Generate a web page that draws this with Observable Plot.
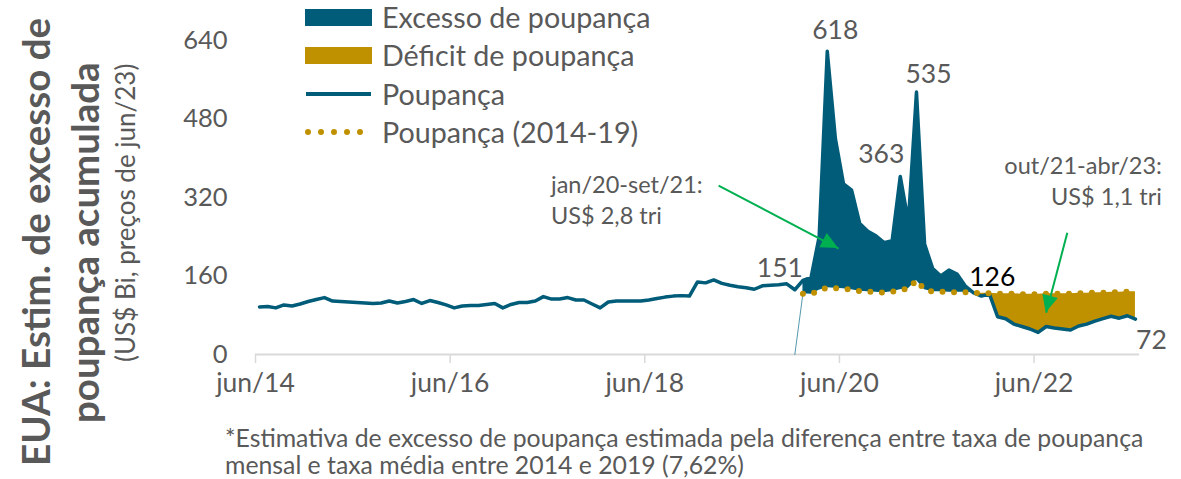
<!DOCTYPE html>
<html><head><meta charset="utf-8">
<script src="https://cdn.jsdelivr.net/npm/d3@7"></script>
<script src="https://cdn.jsdelivr.net/npm/@observablehq/plot@0.6"></script>
<style>
body{margin:0;background:#fff;}
#wrap{position:relative;width:1181px;height:479px;font-family:Lato,sans-serif;color:#595959;overflow:hidden;background:#fff}
#chart svg{position:absolute;left:0;top:0}
.vt{position:absolute;white-space:nowrap;transform-origin:0 0;transform:rotate(-90deg);line-height:1}
.lg{position:absolute;left:305px;display:flex;align-items:center;font-size:28.7px;white-space:nowrap;height:32px}
.sw{width:67px;height:17px;margin-right:10px}
.ann{position:absolute;font-size:23.5px;line-height:31px;white-space:nowrap}
.foot{position:absolute;left:225px;top:424px;font-size:24.8px;line-height:27px;white-space:nowrap}
</style></head>
<body>
<div id="wrap">
  <div id="chart"></div>
  <div class="vt" style="left:16px;top:466px;font-size:38.5px;font-weight:700;">EUA: Estim. de excesso de</div>
  <div class="vt" style="left:65px;top:423px;font-size:38.5px;font-weight:700;">poupança acumulada</div>
  <div class="vt" style="left:112px;top:362px;font-size:26px;">(US$ Bi, preços de jun/23)</div>
  <div class="lg" style="top:1px"><div class="sw" style="background:#005C78"></div>Excesso de poupança</div>
  <div class="lg" style="top:39px"><div class="sw" style="background:#BF9000"></div>Déficit de poupança</div>
  <div class="lg" style="top:78px"><svg width="67" height="10" style="margin-right:10px"><line x1="1" y1="5" x2="66" y2="5" stroke="#005C78" stroke-width="4"/></svg>Poupança</div>
  <div class="lg" style="top:116px"><svg width="67" height="10" style="margin-right:10px"><line x1="3" y1="5" x2="66" y2="5" stroke="#BF9000" stroke-width="6" stroke-linecap="round" stroke-dasharray="0,13"/></svg>Poupança (2014-19)</div>
  <div class="ann" style="left:551px;top:169px">jan/20-set/21:<br>US$ 2,8 tri</div>
  <div class="ann" style="right:19px;top:150px;text-align:right">out/21-abr/23:<br>US$ 1,1 tri</div>
  <div class="foot">*Estimativa de excesso de poupança estimada pela diferença entre taxa de poupança<br>mensal e taxa média entre 2014 e 2019 (7,62%)</div>
</div>
<script>
// Monthly index 0 = jun/14 ... 108 = jun/23
const tickMonths = [0, 24, 48, 72, 96];
const tickLabels = ["jun/14", "jun/16", "jun/18", "jun/20", "jun/22"];
const yTicks = [0, 160, 320, 480, 640];

// Poupança (US$ bi), jun/14 - jun/23
const poupanca = [
  97, 98, 95, 101, 99, 103, 108, 112, 116, 109, 108, 107,      // jun/14 - mai/15
  106, 105, 104, 105, 109, 105, 108, 112, 104, 110, 106, 101,  // jun/15 - mai/16
  95, 99, 100, 100, 102, 104, 95, 102, 106, 106, 109, 118,     // jun/16 - mai/17
  113, 113, 116, 111, 111, 103, 95, 107, 109, 109, 109, 109,   // jun/17 - mai/18
  111, 114, 117, 119, 120, 119, 148, 146, 152, 145, 141, 138,  // jun/18 - mai/19
  136, 133, 140, 141, 142, 144, 132,                           // jun/19 - dez/19
  151, 157, 240, 618, 440, 348, 335, 267, 251, 242, 228, 232,  // jan/20 - dez/20
  363, 270, 535, 225, 175, 160, 172, 164, 140, 126, 119, 123,  // jan/21 - dez/21
  77, 73, 62, 57, 52, 45, 57, 54, 52, 50, 58, 62,              // jan/22 - dez/22
  68, 73, 78, 74, 79, 72                                       // jan/23 - jun/23
];
// Poupança com taxa média 2014-19, jan/20 - jun/23
const trendStart = 67;
const poupancaTendencia = [
  124, 123, 131, 136, 135, 134, 132, 129, 128, 127, 126, 128,
  132, 134, 151, 132, 128, 128, 127, 127, 127, 126, 125, 125,
  124, 124, 124, 123, 123, 123, 124, 124, 124, 124, 125, 125,
  126, 126, 127, 127, 128, 128
];
const excessEnd = 88;  // out/21
// value labels: month index, offsets, colour
const valueLabels = [
  {i: 70, dx: 8, dy: -23, fill: "#595959"},
  {i: 81, dx: 12, dy: -20, fill: "#595959"},
  {i: 79, dx: -19, dy: -24, fill: "#595959"},
  {i: 67, dx: -23, dy: -14, fill: "#595959"},
  {i: 88, dx: 19, dy: -17, fill: "#000000"},
  {i: 108, dx: 16, dy: 19, fill: "#595959"}
];
// green arrows (data coordinates)
const arrows = [
  {x1: 56.6, y1: 344, x2: 71.4, y2: 216},
  {x1: 99.6, y1: 248, x2: 97.0, y2: 85}
];

const rows = poupanca.map((p, i) => ({t: i, p, b: i >= trendStart ? poupancaTendencia[i - trendStart] : null}));
const trendRows = rows.filter(d => d.b != null);
const excessRows = trendRows.filter(d => d.t <= excessEnd).map(d => ({...d, top: Math.max(d.p, d.b)}));
const deficitRows = trendRows.filter(d => d.t >= excessEnd).map(d => ({...d, bot: Math.min(d.p, d.b)}));
const baseEdge = [{t: trendStart - 1, v: 0}, {t: trendStart, v: poupancaTendencia[0]}];
const labelRows = valueLabels.map(l => ({...l, t: l.i, v: poupanca[l.i], text: String(poupanca[l.i])}));

const teal = "#005C78", gold = "#BF9000", green = "#00B050";

const plot = Plot.plot({
  width: 1181, height: 479,
  marginLeft: 255, marginRight: 42, marginTop: 40, marginBottom: 125,
  style: {fontFamily: "Lato, sans-serif", color: "#595959", background: "transparent"},
  x: {type: "linear", domain: [-0.5, 108.5]},
  y: {domain: [0, 640]},
  marks: [
    Plot.axisY({ticks: yTicks, tickSize: 0, tickPadding: 28, fontSize: 25.5, fill: "#595959"}),
    Plot.axisX({ticks: tickMonths.map(m => m - 0.5), tickFormat: d => tickLabels[tickMonths.indexOf(d + 0.5)],
      tickSize: 9, tickPadding: 10, fontSize: 26.5, stroke: "#d9d9d9", strokeWidth: 1.5, fill: "#595959"}),
    Plot.ruleY([0], {stroke: "#d9d9d9", strokeWidth: 2}),
    Plot.areaY(excessRows, {x: "t", y1: "b", y2: "top", fill: teal}),
    Plot.areaY(deficitRows, {x: "t", y1: "bot", y2: "b", fill: gold}),
    Plot.line(baseEdge, {x: "t", y: "v", stroke: "#2a7d99", strokeWidth: 0.8}),
    Plot.line(rows, {x: "t", y: "p", stroke: teal, strokeWidth: 3.5, strokeLinejoin: "round"}),
    Plot.line(trendRows, {x: "t", y: "b", stroke: gold, strokeWidth: 6, strokeLinecap: "round", strokeDasharray: "0,11.5"}),
    Plot.text(labelRows, {x: "t", y: "v", text: "text", fill: d => d.fill, fontSize: 26.5}),
    Plot.link(arrows, {x1: "x1", y1: "y1", x2: "x2", y2: "y2", stroke: green, strokeWidth: 2})
  ]
});

// apply per-label offsets
const texts = d3.select(plot).selectAll("g[aria-label=text] text");
texts.each(function(_, k) {
  const l = labelRows[k];
  d3.select(this).attr("dx", l.dx).attr("dy", l.dy + 2).attr("fill", l.fill);
});

// filled arrow heads, positioned through the plot's scales
const sx = plot.scale("x"), sy = plot.scale("y");
const g = d3.select(plot).append("g");
arrows.forEach(a => {
  const x1 = sx.apply(a.x1), y1 = sy.apply(a.y1), x2 = sx.apply(a.x2), y2 = sy.apply(a.y2);
  const ang = Math.atan2(y2 - y1, x2 - x1), L = 17, W = 8;
  const bx = x2 - L * Math.cos(ang), by = y2 - L * Math.sin(ang);
  const px = -Math.sin(ang) * W, py = Math.cos(ang) * W;
  g.append("path").attr("d", `M${x2},${y2}L${bx + px},${by + py}L${bx - px},${by - py}Z`).attr("fill", green);
});

document.getElementById("chart").appendChild(plot);
</script>
</body></html>
